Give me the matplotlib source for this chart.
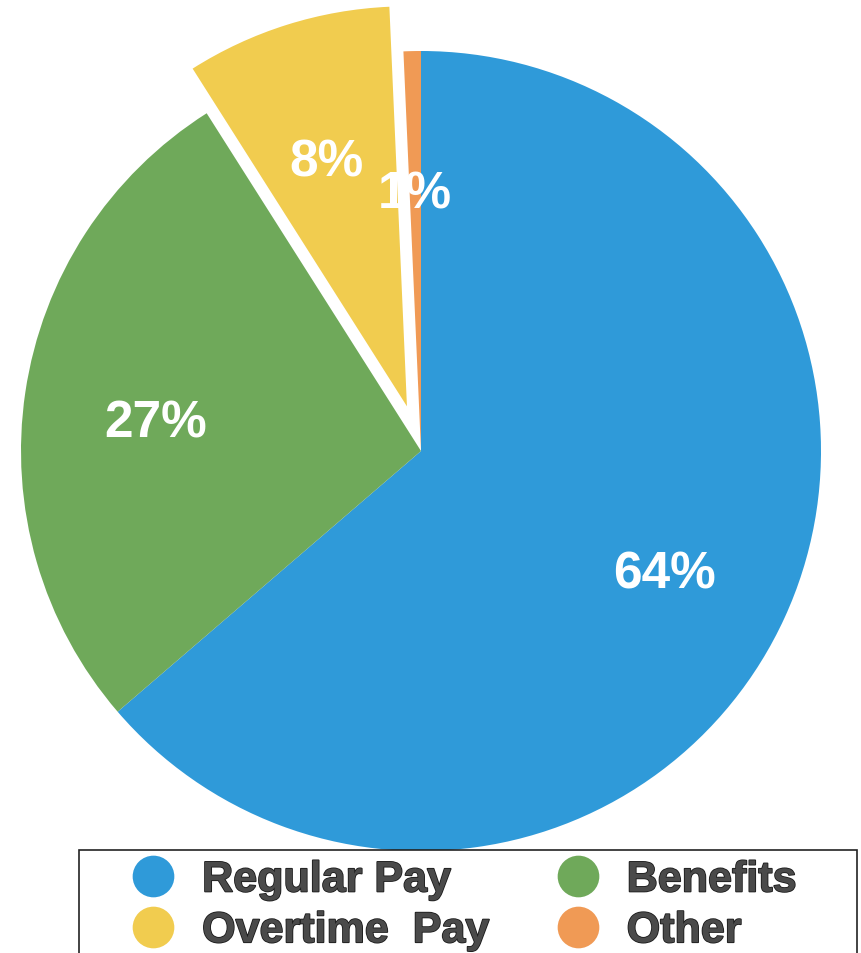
"""Pie chart of payroll cost breakdown (regular pay, benefits, overtime, other)."""

import matplotlib

matplotlib.use("Agg")
import matplotlib.patheffects as pe  # noqa: E402
import matplotlib.pyplot as plt  # noqa: E402
from matplotlib.font_manager import FontProperties  # noqa: E402
from matplotlib.lines import Line2D  # noqa: E402
from matplotlib.patches import Rectangle  # noqa: E402

CATEGORIES = ["Regular Pay", "Benefits", "Overtime  Pay", "Other"]
SHARES = [63.7, 27.3, 8.3, 0.7]
EXPLODE = [0, 0, 0.117, 0]
COLORS = ["#2f9ad9", "#6fa95a", "#f1cc4f", "#f09a55"]

W_PX, H_PX = 861, 954
CENTER_PX = (421, 452)  # from top-left
RADIUS_PX = 400


def grafico_pie(ruta="out.png"):
    fig = plt.figure(figsize=(W_PX / 100, H_PX / 100), dpi=100)
    ax = fig.add_axes([0, 0, 1, 1])

    wedges, texts, autotexts = ax.pie(
        SHARES,
        colors=COLORS,
        explode=EXPLODE,
        startangle=90,
        counterclock=False,
        autopct="%1.0f%%",
        pctdistance=0.67,
        wedgeprops={"linewidth": 0},
        textprops={"color": "white", "fontsize": 37, "fontweight": "bold",
                   "family": "Liberation Sans"},
    )
    for w in wedges:
        w.set_clip_on(False)
    # va=center centres the full text box; nudge so the digits sit centred
    for at in autotexts:
        x, y = at.get_position()
        at.set_position((x, y - 0.028))

    # axis limits so that 1 data unit == RADIUS_PX pixels
    cx, cy = CENTER_PX
    ax.set_xlim(-cx / RADIUS_PX, (W_PX - cx) / RADIUS_PX)
    ax.set_ylim(-(H_PX - cy) / RADIUS_PX, cy / RADIUS_PX)
    ax.set_aspect("equal")
    ax.axis("off")

    # legend frame, cut off by the bottom of the image like the scan
    fig.patches.append(
        Rectangle(
            (79 / W_PX, -0.05), 778 / W_PX, 0.05 + 1 - 851 / H_PX,
            transform=fig.transFigure, facecolor="white",
            edgecolor="#222222", linewidth=1.2, zorder=2,
        )
    )

    # column-first order: Regular/Overtime, then Benefits/Other
    orden = [0, 2, 1, 3]
    handles = [
        Line2D([], [], linestyle="none", marker="o", markersize=30,
               markerfacecolor=COLORS[i], markeredgewidth=0)
        for i in orden
    ]
    etiquetas = [CATEGORIES[i] for i in orden]
    leg = fig.legend(
        handles, etiquetas,
        loc="upper left",
        bbox_to_anchor=(131.5 / W_PX, 1 - 861.5 / H_PX),
        ncol=2,
        frameon=False,
        borderpad=0,
        borderaxespad=0,
        handlelength=1.0,
        handletextpad=0.64,
        columnspacing=1.57,
        labelspacing=0.25,
        labelcolor="#4a4a4a",
        prop=FontProperties(family="Liberation Sans", weight="bold", size=31),
    )
    leg.set_zorder(3)
    for t in leg.get_texts():
        t.set_path_effects([pe.withStroke(linewidth=1.2, foreground="#1a1a1a")])

    fig.savefig(ruta, dpi=100)
    plt.close(fig)


if __name__ == "__main__":
    grafico_pie()
